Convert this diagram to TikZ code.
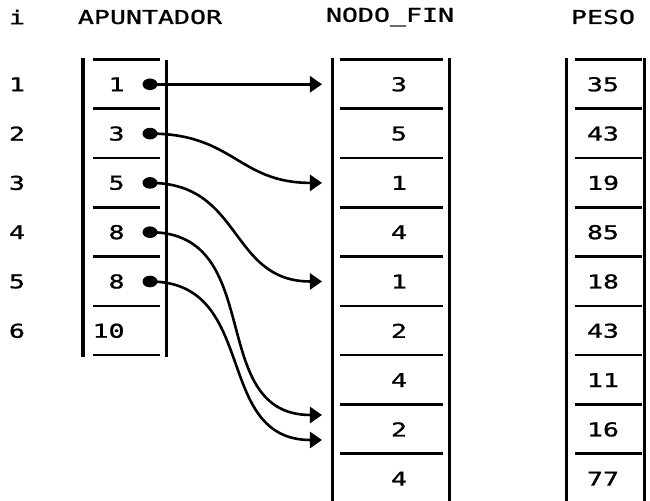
\documentclass[tikz,border=0pt]{standalone}
\usepackage{fontspec}
\newfontfamily\matriz[FakeStretch=1.4,FakeBold=1.2]{DejaVu Sans Mono}
\usetikzlibrary{arrows.meta,shapes.geometric}

\begin{document}
\begin{tikzpicture}[
  x=0.5pt, y=-0.5pt,
  every node/.style={font=\matriz\fontsize{9.5}{11}\selectfont, inner sep=0pt},
  columna/.style={line width=1.5pt},
  raya/.style={line width=1.3pt},
  punto/.style={ellipse, fill=black, inner sep=0pt,
    minimum width=7.5pt, minimum height=5.8pt},
  flecha/.style={line width=1.3pt, -{Triangle[length=6pt,width=8pt]}}
]
  \useasboundingbox (0,0) rectangle (650,501);

  %% ── Cabeceras ─────────────────────────────────────────────
  \node (ti)  at (17,17)  {i};
  \node (tap) at (150,17) {APUNTADOR};
  \node (tnf) at (390,17) {NODO\_FIN};
  \node (tpe) at (603,17) {PESO};

  %% ── Índices i ─────────────────────────────────────────────
  \foreach \k in {1,...,6}
    \node (i\k) at (17,35+49.3*\k) {\k};

  %% ── APUNTADOR ─────────────────────────────────────────────
  \draw[columna] (83,58) -- (83,357);
  \draw[columna] (167,60) -- (167,357);
  \foreach \k in {0,...,6}
    \draw[raya] (93,59.4+49.3*\k) -- (160,59.4+49.3*\k);
  \foreach \k/\v in {1/1,2/3,3/5,4/8,5/8,6/10}
    \node[anchor=east] (a\k) at (125,35+49.3*\k) {\v};
  \foreach \k in {1,...,5}
    \node[punto] (p\k) at (150,35+49.3*\k) {};

  %% ── NODO_FIN ──────────────────────────────────────────────
  \draw[columna] (333,58) -- (333,501);
  \draw[columna] (450,58) -- (450,501);
  \foreach \k in {0,...,8}
    \draw[raya] (340,59.4+49.3*\k) -- (443,59.4+49.3*\k);
  \foreach \k/\v in {1/3,2/5,3/1,4/4,5/1,6/2,7/4,8/2,9/4}
    \node (n\k) at (399,35+49.3*\k) {\v};

  %% ── PESO ──────────────────────────────────────────────────
  \draw[columna] (567,58) -- (567,501);
  \draw[columna] (645,58) -- (645,501);
  \foreach \k in {0,...,8}
    \draw[raya] (575,59.4+49.3*\k) -- (642,59.4+49.3*\k);
  \foreach \k/\v in {1/35,2/43,3/19,4/85,5/18,6/43,7/11,8/16,9/77}
    \node (w\k) at (603,35+49.3*\k) {\v};

  %% ── Flechas ───────────────────────────────────────────────
  \coordinate (f1) at (322,84.3);
  \coordinate (f2) at (322,182.9);
  \coordinate (f3) at (322,281.5);
  \coordinate (f4) at (322,415);
  \coordinate (f5) at (322,440);

  \draw[flecha] (p1.center) -- (f1);
  \foreach \k in {2,...,5}
    \draw[flecha] (p\k.center) to[out=0, in=180, looseness=1.2] (f\k);

\end{tikzpicture}
\end{document}
